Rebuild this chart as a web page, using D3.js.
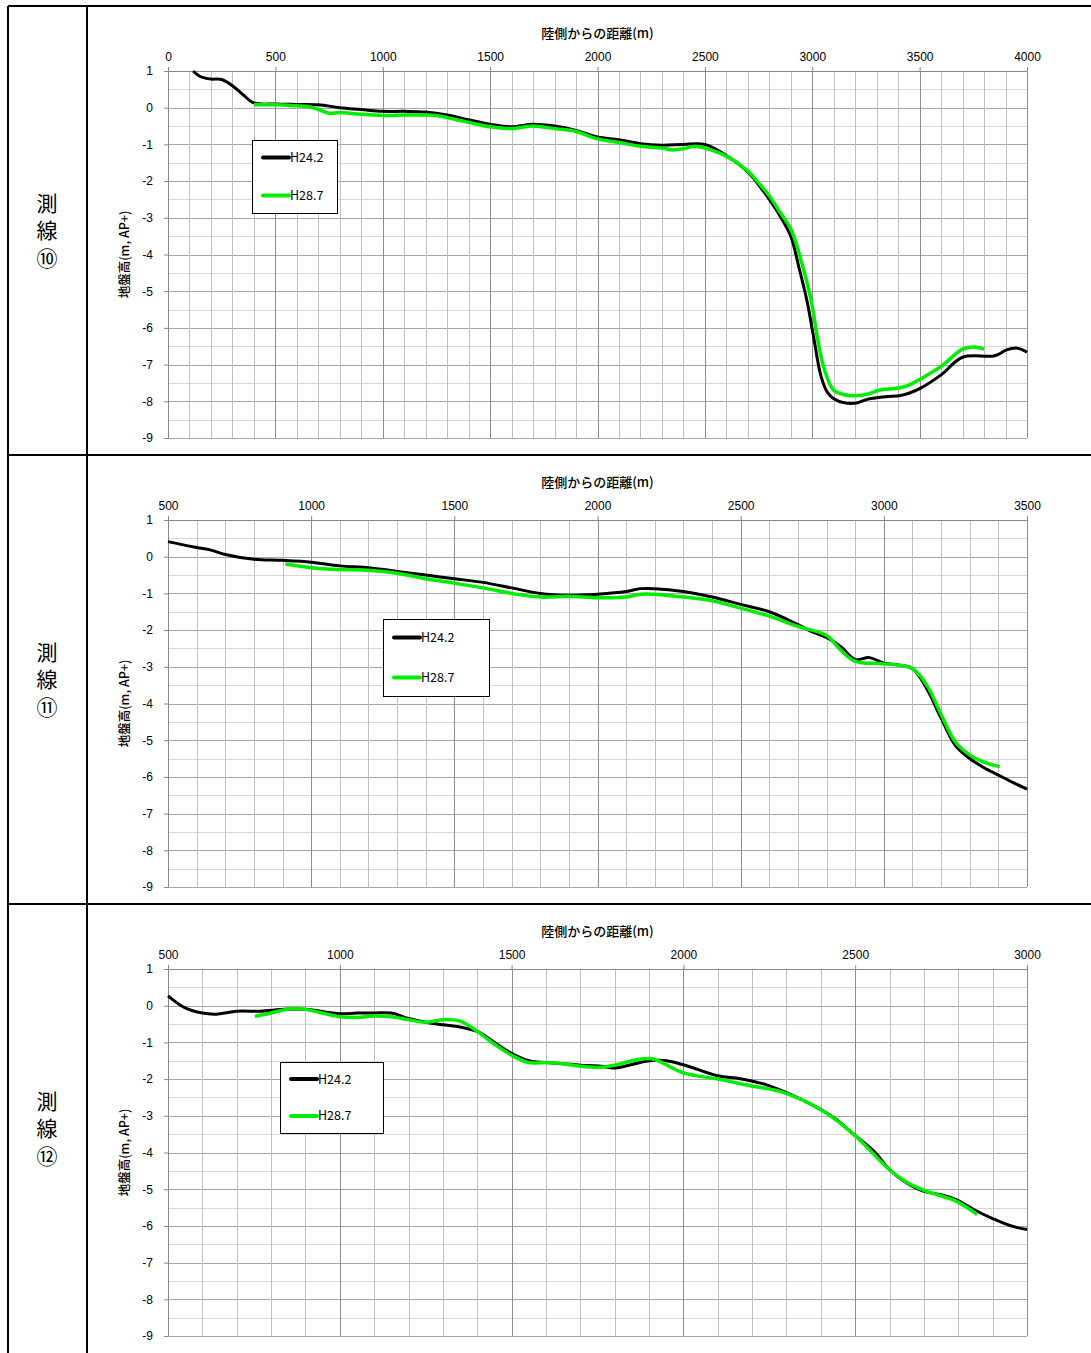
<!DOCTYPE html>
<html>
<head>
<meta charset="utf-8">
<script src="https://cdn.jsdelivr.net/npm/d3@7"></script>
<style>
body { margin: 0; background: #fff; }
</style>
</head>
<body>
<svg id="chart" width="1091" height="1353"></svg>
<script>
// Survey line names and legend labels.
var lineNames = ["測線⑩", "測線⑪", "測線⑫"];
var seriesNames = ["H24.2", "H28.7"];
var seriesColors = ["#000000", "#00ee00"];

// Axis ticks.
var yTicks = [1, 0, -1, -2, -3, -4, -5, -6, -7, -8, -9];
var xTicks10 = [0, 500, 1000, 1500, 2000, 2500, 3000, 3500, 4000];
var xTicks11 = [500, 1000, 1500, 2000, 2500, 3000, 3500];
var xTicks12 = [500, 1000, 1500, 2000, 2500, 3000];

// Line 10, H24.2
var l10aDist = [117,150,200,250,300,350,400,500,600,700,800,900,1000,1100,1200,1300,1400,1500,1600,1700,1800,1900,2000,2100,2200,2300,2400,2500,2600,2700,2750,2800,2850,2900,2940,2975,3005,3040,3070,3100,3155,3205,3260,3350,3405,3450,3505,3600,3700,3850,3905,3950,4000];
var l10aElev = [1.0,0.85,0.78,0.77,0.6,0.35,0.13,0.1,0.09,0.08,0.0,-0.05,-0.1,-0.1,-0.12,-0.2,-0.33,-0.45,-0.52,-0.45,-0.5,-0.62,-0.8,-0.87,-0.98,-1.02,-1.0,-1.0,-1.3,-1.75,-2.1,-2.5,-2.95,-3.5,-4.4,-5.25,-6.2,-7.3,-7.75,-7.93,-8.05,-8.05,-7.94,-7.87,-7.85,-7.78,-7.64,-7.28,-6.8,-6.76,-6.6,-6.55,-6.66];
// Line 10, H28.7
var l10bDist = [400,500,600,650,700,750,800,900,1000,1100,1200,1250,1300,1400,1500,1600,1700,1800,1900,2000,2100,2200,2300,2350,2400,2450,2500,2600,2700,2750,2800,2850,2900,2950,2995,3025,3055,3100,3150,3205,3260,3310,3400,3445,3505,3600,3700,3755,3800];
var l10bElev = [0.08,0.08,0.05,0.03,-0.05,-0.15,-0.13,-0.18,-0.21,-0.2,-0.2,-0.21,-0.27,-0.4,-0.52,-0.57,-0.5,-0.57,-0.65,-0.85,-0.95,-1.05,-1.1,-1.15,-1.12,-1.05,-1.1,-1.32,-1.72,-2.05,-2.4,-2.85,-3.3,-4.2,-5.25,-6.3,-7.1,-7.7,-7.82,-7.85,-7.8,-7.7,-7.64,-7.57,-7.39,-7.05,-6.58,-6.52,-6.58];

// Line 11, H24.2
var l11aDist = [500,600,650,700,800,900,1000,1100,1200,1300,1400,1500,1600,1700,1800,1900,2000,2100,2150,2200,2300,2400,2500,2600,2700,2750,2800,2850,2900,2950,3000,3050,3100,3150,3200,3250,3300,3350,3400,3450,3500];
var l11aElev = [0.41,0.25,0.18,0.06,-0.07,-0.1,-0.15,-0.25,-0.3,-0.4,-0.5,-0.6,-0.7,-0.85,-1.0,-1.05,-1.02,-0.95,-0.87,-0.87,-0.95,-1.1,-1.3,-1.5,-1.85,-2.05,-2.2,-2.45,-2.8,-2.75,-2.9,-2.95,-3.05,-3.6,-4.4,-5.15,-5.5,-5.75,-5.95,-6.15,-6.33];
// Line 11, H28.7
var l11bDist = [910,1000,1100,1200,1300,1400,1500,1600,1700,1800,1900,2000,2100,2150,2200,2300,2400,2500,2600,2700,2800,2850,2900,3000,3100,3150,3200,3250,3300,3350,3405];
var l11bElev = [-0.2,-0.3,-0.35,-0.37,-0.45,-0.6,-0.72,-0.85,-1.0,-1.1,-1.08,-1.12,-1.1,-1.02,-1.02,-1.1,-1.2,-1.4,-1.62,-1.9,-2.15,-2.55,-2.85,-2.92,-3.05,-3.5,-4.3,-5.05,-5.4,-5.6,-5.72];

// Line 12, H24.2
var l12aDist = [500,550,600,640,700,770,840,900,1000,1050,1100,1150,1200,1250,1300,1350,1400,1450,1500,1550,1600,1650,1700,1760,1800,1900,1950,2000,2100,2165,2240,2290,2400,2445,2495,2555,2600,2650,2700,2750,2795,2855,2900,2950,3000];
var l12aElev = [0.27,-0.06,-0.2,-0.23,-0.15,-0.15,-0.1,-0.1,-0.22,-0.2,-0.2,-0.2,-0.35,-0.45,-0.52,-0.58,-0.7,-1.0,-1.3,-1.5,-1.55,-1.58,-1.62,-1.65,-1.7,-1.5,-1.5,-1.61,-1.91,-1.99,-2.15,-2.33,-2.83,-3.1,-3.5,-3.97,-4.47,-4.83,-5.06,-5.15,-5.29,-5.6,-5.8,-5.99,-6.1];
// Line 12, H28.7
var l12bDist = [753,800,855,900,1000,1050,1100,1150,1200,1250,1300,1350,1400,1450,1500,1550,1600,1650,1700,1757,1800,1903,2000,2100,2195,2290,2400,2495,2600,2650,2700,2795,2855];
var l12bElev = [-0.29,-0.2,-0.08,-0.1,-0.3,-0.32,-0.28,-0.3,-0.38,-0.45,-0.38,-0.42,-0.7,-1.05,-1.35,-1.55,-1.55,-1.58,-1.65,-1.68,-1.62,-1.44,-1.83,-2.0,-2.18,-2.36,-2.83,-3.5,-4.47,-4.81,-5.03,-5.33,-5.69];

// Panel table built from the arrays above (legend box = x, y, w, h in plot coords).
var panels = [
    {name: lineNames[0], ticks: xTicks10, series: [[l10aDist, l10aElev], [l10bDist, l10bElev]], legend: [84, 69, 85, 73]},
    {name: lineNames[1], ticks: xTicks11, series: [[l11aDist, l11aElev], [l11bDist, l11bElev]], legend: [215, 99, 106, 77]},
    {name: lineNames[2], ticks: xTicks12, series: [[l12aDist, l12aElev], [l12bDist, l12bElev]], legend: [112, 93, 103, 71]}
];

// Page layout.
var tableLeft = 8, tableTop = 6, colSplit = 87, rowHeight = 449;
var plotLeft = 168, plotRight = 1027, plotOffset = 65, plotHeight = 367;
var numFont = "'Liberation Sans', Arial, sans-serif";
var jpFont = "'Noto Sans CJK JP', 'Noto Sans', sans-serif";

var svg = d3.select("#chart");

// Table lines round the panels.
var table = svg.append("g").attr("stroke", "#000").attr("stroke-width", 2);
table.append("line").attr("x1", tableLeft).attr("x2", 1091).attr("y1", tableTop).attr("y2", tableTop);
table.append("line").attr("x1", tableLeft).attr("x2", tableLeft).attr("y1", tableTop).attr("y2", 1353);
table.append("line").attr("x1", colSplit).attr("x2", colSplit).attr("y1", tableTop).attr("y2", 1353);
for (var r = 1; r < 3; r++) {
    table.append("line").attr("x1", tableLeft).attr("x2", 1091)
        .attr("y1", tableTop + r * rowHeight).attr("y2", tableTop + r * rowHeight);
}

var line = d3.line().curve(d3.curveCatmullRom.alpha(0.5));
var plainNum = d => String(d); // keep ASCII hyphen and no thousands comma

panels.forEach(function(p, i) {
    var rowTop = tableTop + i * rowHeight;
    var top = rowTop + plotOffset;
    var g = svg.append("g");

    // Row label, written top to bottom.
    var chars = Array.from(p.name);
    var midY = rowTop + rowHeight / 2;
    g.selectAll("text.rowlabel")
        .data(chars)
        .enter()
        .append("text")
        .attr("class", "rowlabel")
        .attr("x", 47)
        .attr("y", (d, k) => midY + (k - 1) * 27.5)
        .attr("dy", "0.36em")
        .attr("text-anchor", "middle")
        .style("font-family", jpFont)
        .style("font-size", "21px")
        .text(d => d);

    var xDomain = [p.ticks[0], p.ticks[p.ticks.length - 1]];
    var x = d3.scaleLinear().domain(xDomain).range([plotLeft, plotRight]);
    var y = d3.scaleLinear().domain([-9, 1]).range([top + plotHeight, top]);

    // Grid: every 100 m and every 0.5 m, heavier on the labelled values.
    var xGrid = d3.range(xDomain[0], xDomain[1] + 1, 100);
    var yGrid = d3.range(-9, 1.01, 0.5);
    g.selectAll("line.ygrid")
        .data(yGrid)
        .enter()
        .append("line")
        .attr("x1", plotLeft).attr("x2", plotRight)
        .attr("y1", d => Math.round(y(d)) + 0.5).attr("y2", d => Math.round(y(d)) + 0.5)
        .attr("stroke", d => Number.isInteger(d) ? "#a6a6a6" : "#d9d9d9")
        .attr("stroke-width", 1);
    g.selectAll("line.xgrid")
        .data(xGrid)
        .enter()
        .append("line")
        .attr("x1", d => Math.round(x(d)) + 0.5).attr("x2", d => Math.round(x(d)) + 0.5)
        .attr("y1", top).attr("y2", top + plotHeight)
        .attr("stroke", d => d % 500 === 0 ? "#8c8c8c" : "#bfbfbf")
        .attr("stroke-width", 1);

    // Top axis.
    var xAxis = g.append("g")
        .attr("transform", "translate(0," + top + ")")
        .call(d3.axisTop(x).tickValues(p.ticks).tickFormat(plainNum).tickSize(4).tickSizeOuter(0).tickPadding(6));
    // Left axis.
    var yAxis = g.append("g")
        .attr("transform", "translate(" + plotLeft + ",0)")
        .call(d3.axisLeft(y).tickValues(yTicks).tickFormat(plainNum).tickSize(4).tickSizeOuter(0).tickPadding(11));
    [xAxis, yAxis].forEach(function(a) {
        a.selectAll("path, line").attr("stroke", "#868686");
        a.selectAll("text").attr("fill", "#000").style("font-family", numFont).style("font-size", "12px");
    });

    // Axis titles.
    g.append("text")
        .attr("x", (plotLeft + plotRight) / 2)
        .attr("y", rowTop + 32)
        .attr("text-anchor", "middle")
        .style("font-family", jpFont)
        .style("font-size", "13px")
        .style("font-weight", 500)
        .text("陸側からの距離(m)");
    g.append("text")
        .attr("transform", "translate(" + 129 + "," + (top + plotHeight / 2) + ") rotate(-90)")
        .attr("text-anchor", "middle")
        .style("font-family", jpFont)
        .style("font-size", "12.5px")
        .style("font-weight", 500)
        .text("地盤高(m, AP+)");

    // Survey profiles.
    p.series.forEach(function(s, k) {
        var pts = s[0].map((d, j) => [x(d), y(s[1][j])]);
        g.append("path")
            .attr("d", line(pts))
            .attr("fill", "none")
            .attr("stroke", seriesColors[k])
            .attr("stroke-width", k === 0 ? 3 : 3.5)
            .attr("stroke-linejoin", "round");
    });

    // Legend box.
    var lx = plotLeft + p.legend[0], ly = top + p.legend[1];
    var legend = g.append("g").attr("transform", "translate(" + lx + "," + ly + ")");
    legend.append("rect")
        .attr("x", 0.5).attr("y", 0.5)
        .attr("width", p.legend[2]).attr("height", p.legend[3])
        .attr("fill", "#fff").attr("stroke", "#000").attr("stroke-width", 1);
    var rowYs = [p.legend[3] * 0.24, p.legend[3] * 0.76];
    seriesNames.forEach(function(name, k) {
        legend.append("line")
            .attr("x1", 11).attr("x2", 37)
            .attr("y1", rowYs[k]).attr("y2", rowYs[k])
            .attr("stroke", seriesColors[k]).attr("stroke-width", 4)
            .attr("stroke-linecap", "round");
        legend.append("text")
            .attr("x", 38).attr("y", rowYs[k])
            .attr("dy", "0.36em")
            .style("font-family", jpFont)
            .style("font-size", "12.5px")
            .text(name);
    });
});
</script>
</body>
</html>
